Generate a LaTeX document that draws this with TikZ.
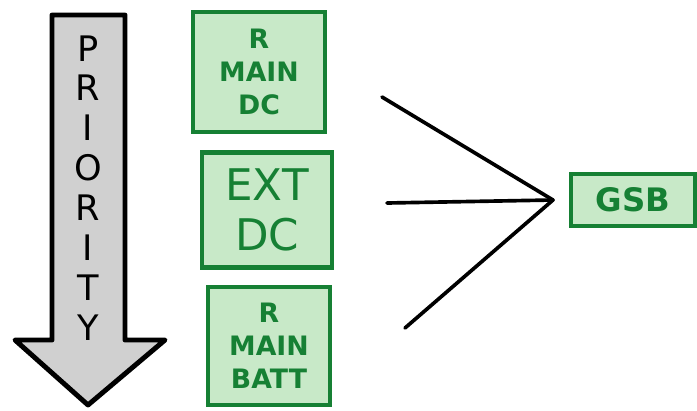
\documentclass[tikz,border=0pt]{standalone}
\usepackage{fontspec}
\setmainfont{DejaVu Sans}
\usetikzlibrary{positioning,calc}
\definecolor{boxgreen}{RGB}{22,128,52}
\definecolor{boxfill}{RGB}{200,233,200}
\definecolor{arrowgray}{RGB}{208,208,208}

\begin{document}
\begin{tikzpicture}[x=0.025cm,y=-0.025cm,
  srcbox/.style={draw=boxgreen, fill=boxfill, line width=3.5pt, text=boxgreen,
    align=center, inner sep=0pt, font=\fontsize{19}{23.5}\selectfont\bfseries},
  feed/.style={line width=2.6pt, line cap=round}]
\useasboundingbox (0,0) rectangle (697,410);

% Priority arrow
\draw[line width=3.5pt, fill=arrowgray, line join=round]
  (52,15) -- (125,15) -- (125,340) -- (165,340) -- (88,405)
  -- (15,340) -- (52,340) -- cycle;
\node[align=center, font=\fontsize{25}{28.4}\selectfont] (prio) at (88,188)
  {P\\R\\I\\O\\R\\I\\T\\Y};

% Sources
\node[srcbox, minimum width=3.3cm, minimum height=3cm] (maindc) at (259,72)
  {R\\MAIN\\DC};
\node[srcbox, minimum width=3.25cm, minimum height=2.875cm,
  font=\fontsize{31}{35.5}\selectfont] (extdc) at (267,210)
  {EXT\\DC};
\node[srcbox, minimum width=3.05cm, minimum height=2.95cm] (mainbatt) at (269,346)
  {R\\MAIN\\BATT};

% Selector
\coordinate (join) at (553,200);
\coordinate (in1) at (382,97);
\coordinate (in2) at (387,203);
\coordinate (in3) at (405,328);
\draw[feed] (in1) -- (join);
\draw[feed] (in2) -- (join);
\draw[feed] (in3) -- (join);

\node[srcbox, minimum width=3.1cm, minimum height=1.3cm,
  font=\fontsize{23}{26}\selectfont\bfseries] (gsb) at (633,200) {GSB};
\end{tikzpicture}
\end{document}
